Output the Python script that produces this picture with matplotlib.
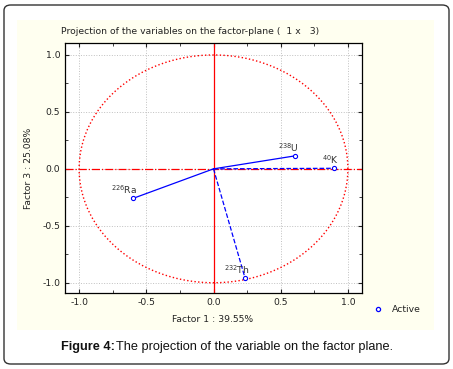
import numpy as np
import matplotlib.pyplot as plt
from matplotlib.patches import FancyBboxPatch, Rectangle

# factor coordinates of the variables (Factor 1, Factor 3)
names = ["$^{238}$U", "$^{40}$K", "$^{226}$Ra", "$^{232}$Th"]
f1 = [0.606, 0.90, -0.60, 0.235]
f3 = [0.114, 0.005, -0.26, -0.96]
styles = ["-", "--", "-", "--"]
ticks = [-1.0, -0.5, 0.0, 0.5, 1.0]

W, H = 453, 369
fig = plt.figure(figsize=(W / 100, H / 100), dpi=100)

# rounded frame and cream panel
fig.patches.append(FancyBboxPatch((4 / W, 5 / H), 445 / W, 359 / H,
                                  boxstyle="round,pad=0,rounding_size=0.015",
                                  transform=fig.transFigure, fill=False,
                                  edgecolor="#333333", linewidth=1.0,
                                  zorder=-2))
fig.patches.append(Rectangle((17 / W, 1 - 330 / H), 417 / W, 310 / H,
                             transform=fig.transFigure, facecolor="#fffff0",
                             edgecolor="none", zorder=-1))

ax = fig.add_axes([65 / W, 1 - 293 / H, 297 / W, 250 / H])
ax.set_zorder(1)
ax.set_facecolor("white")
ax.set_xlim(-1.105, 1.105)
ax.set_ylim(-1.09, 1.105)

ax.grid(True, color="#c0c0c0", linestyle=":", linewidth=0.7)
ax.set_xticks(ticks)
ax.set_yticks(ticks)
ax.set_xticks(np.arange(-1.0, 1.01, 0.25), minor=True)
ax.set_yticks(np.arange(-1.0, 1.01, 0.25), minor=True)
ax.tick_params(which="both", direction="in", top=True, right=True,
               labelsize=6.7, colors="#222222", length=3)
ax.tick_params(which="minor", length=2)
ax.set_xticklabels([f"{t:.1f}" for t in ticks])
ax.set_yticklabels([f"{t:.1f}" for t in ticks])

# unit circle and axes cross
t = np.linspace(0, 2 * np.pi, 400)
ax.plot(np.cos(t), np.sin(t), color="red", linestyle=":", linewidth=1.0)
ax.axvline(0, color="red", linewidth=0.9)
ax.axhline(0, color="red", linewidth=0.9, linestyle="-.")

for x, y, ls, n in zip(f1, f3, styles, names):
    ax.plot([0, x], [0, y], color="blue", linestyle=ls, linewidth=0.9)
    ax.plot(x, y, marker="o", markersize=3, markerfacecolor="white",
            markeredgecolor="blue", markeredgewidth=0.8, linestyle="none")
    ax.text(x + 0.03, y + 0.02, n, fontsize=6.7, color="#333333",
            ha="right", va="bottom")

for s in ax.spines.values():
    s.set_linewidth(0.9)

fig.text(61 / W, 1 - 32 / H,
         "Projection of the variables on the factor-plane (  1 x   3)",
         fontsize=6.7, color="#222222", va="center")
fig.text(213 / W, 1 - 320 / H, "Factor 1 : 39.55%", fontsize=6.7,
         color="#222222", ha="center", va="center")
fig.text(29 / W, 1 - 168 / H, "Factor 3 : 25.08%", fontsize=6.7,
         color="#222222", ha="center", va="center", rotation=90)

# legend
fig.lines.append(plt.Line2D([378 / W], [1 - 309 / H], marker="o",
                            markersize=3, markerfacecolor="white",
                            markeredgecolor="blue", markeredgewidth=0.9,
                            transform=fig.transFigure))
fig.text(392 / W, 1 - 309 / H, "Active", fontsize=6.7, color="#222222",
         va="center")

# caption
fig.text(61 / W, 1 - 347 / H, "Figure 4:", fontsize=9.2, fontweight="bold",
         color="#111111", va="center", family="Liberation Sans")
fig.text(116 / W, 1 - 347 / H,
         "The projection of the variable on the factor plane.",
         fontsize=9.2, color="#111111", va="center", family="Liberation Sans")

fig.savefig("out.png", dpi=100)
